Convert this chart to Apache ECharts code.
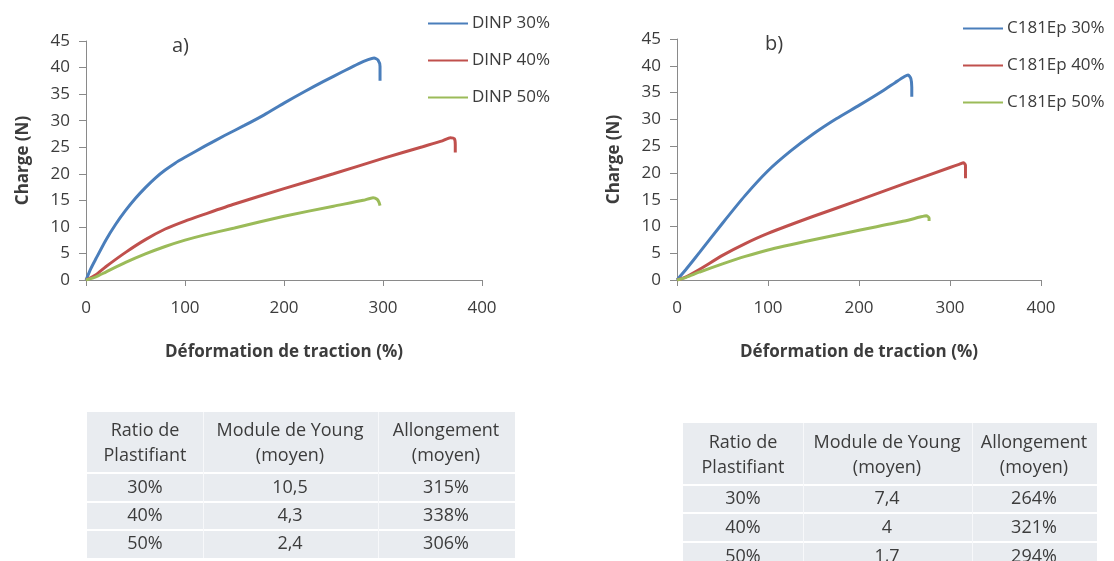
<!DOCTYPE html>
<html>
<head>
<meta charset="utf-8">
<script src="https://cdn.jsdelivr.net/npm/echarts@6/dist/echarts.min.js"></script>
<style>
html,body{margin:0;padding:0;background:#fff;}
#chart{width:1114px;height:561px;}
</style>
</head>
<body>
<div id="chart"></div>
<script>
// ---- Data ----
const seriesNamesA = ['DINP 30%', 'DINP 40%', 'DINP 50%'];
const seriesNamesB = ['C181Ep 30%', 'C181Ep 40%', 'C181Ep 50%'];

const dinp30 = [[0,0],[5,2.2],[10,4],[20,7.5],[30,10.5],[40,13.1],[50,15.4],[60,17.4],[70,19.2],[80,20.7],[90,22],[100,23.1],[120,25.2],[140,27.2],[160,29.1],[180,31.1],[200,33.3],[220,35.4],[240,37.4],[260,39.3],[275,40.7],[285,41.5],[291,41.8],[295,41.4],[297,40.2],[297,37.5]];
const dinp40 = [[0,0],[10,1],[20,2.5],[40,5.2],[60,7.6],[80,9.6],[100,11.1],[120,12.4],[150,14.3],[200,17.2],[250,20],[300,22.9],[340,25.1],[360,26.2],[368,26.8],[372,26.6],[373,25.5],[373,24]];
const dinp50 = [[0,0],[10,0.6],[20,1.5],[40,3.3],[60,4.9],[80,6.3],[100,7.5],[120,8.5],[150,9.8],[200,12],[250,13.9],[280,15],[290,15.5],[294,15.2],[296,14.6],[297,14]];

const c30 = [[0,0],[10,2],[25,5.2],[50,10.6],[75,15.8],[100,20.4],[125,24.1],[150,27.3],[175,30.1],[200,32.6],[225,35.2],[240,36.9],[250,38],[254,38.3],[257,37.6],[258,36],[258,34.2]];
const c40 = [[0,0],[10,0.6],[25,2],[50,4.6],[75,6.8],[100,8.7],[150,11.9],[200,14.9],[250,18],[300,21],[310,21.6],[315,21.9],[317,21.4],[317,19]];
const c50 = [[0,0],[10,0.5],[25,1.5],[50,3],[75,4.4],[100,5.6],[150,7.5],[200,9.3],[250,11],[268,11.8],[274,12],[277,11.6],[277,11]];

const xTicks = [0, 100, 200, 300, 400];
const yTicks = [0, 5, 10, 15, 20, 25, 30, 35, 40, 45];

const tableHeader = ['Ratio de\nPlastifiant', 'Module de Young\n(moyen)', 'Allongement\n(moyen)'];
const ratios = ['30%', '40%', '50%'];
const youngA = ['10,5', '4,3', '2,4'];
const elongA = ['315%', '338%', '306%'];
const youngB = ['7,4', '4', '1,7'];
const elongB = ['264%', '321%', '294%'];

const colors = ['#4a7ebb', '#c0504d', '#9bbb59'];
const FONT = '"Open Sans", sans-serif';
const TXT = '#3c3c3c';

// ---- Build ----
function xAxisDef(gi){
  return {
    type:'value', gridIndex:gi, min:xTicks[0], max:xTicks[xTicks.length-1], interval:100,
    name:'Déformation de traction (%)', nameLocation:'middle', nameGap:64,
    nameTextStyle:{fontFamily:FONT, fontWeight:'bold', fontSize:17, color:TXT},
    axisLine:{show:true, lineStyle:{color:'#8a8a8a', width:1}},
    axisTick:{show:true, length:6, lineStyle:{color:'#8a8a8a'}},
    axisLabel:{fontFamily:FONT, fontSize:17, color:TXT, margin:20},
    splitLine:{show:false}
  };
}
function yAxisDef(gi){
  return {
    type:'value', gridIndex:gi, min:yTicks[0], max:yTicks[yTicks.length-1], interval:5,
    name:'Charge (N)', nameLocation:'middle', nameGap:54, nameRotate:90,
    nameTextStyle:{fontFamily:FONT, fontWeight:'bold', fontSize:17, color:TXT},
    axisLine:{show:true, lineStyle:{color:'#8a8a8a', width:1}},
    axisTick:{show:true, length:7, lineStyle:{color:'#8a8a8a'}},
    axisLabel:{fontFamily:FONT, fontSize:17, color:TXT, margin:16},
    splitLine:{show:false}
  };
}
function lineSeries(name, data, color, gi){
  return {
    type:'line', name:name, data:data, xAxisIndex:gi, yAxisIndex:gi,
    showSymbol:false, symbol:'none', smooth:0.2,
    lineStyle:{color:color, width:3}, itemStyle:{color:color},
    animation:false
  };
}
function legendDef(names, left, top){
  return {
    orient:'vertical', left:left, top:top, data:names,
    icon:'rect', itemWidth:40, itemHeight:2, itemGap:20, padding:0,
    textStyle:{fontFamily:FONT, fontSize:17, color:TXT, lineHeight:17, padding:[0,0,0,-1]}
  };
}
function tableGraphics(cols, rows, colCenters, values){
  const g = [];
  g.push({type:'rect', shape:{x:cols[0], y:rows[0], width:cols[cols.length-1]-cols[0], height:rows[rows.length-1]-rows[0]}, style:{fill:'#e9ecf0'}, silent:true});
  for (let i=1;i<rows.length-1;i++){
    g.push({type:'rect', shape:{x:cols[0], y:rows[i]-1, width:cols[cols.length-1]-cols[0], height:2}, style:{fill:'#ffffff'}, silent:true});
  }
  for (let j=1;j<cols.length-1;j++){
    g.push({type:'rect', shape:{x:cols[j], y:rows[0], width:1, height:rows[rows.length-1]-rows[0]}, style:{fill:'#f7f8fa'}, silent:true});
  }
  for (let r=0;r<values.length;r++){
    for (let c=0;c<values[r].length;c++){
      g.push({type:'text', x:colCenters[c], y:(rows[r]+rows[r+1])/2 + (r===0?1:0),
        style:{text:values[r][c], fill:TXT, font:'18px '+FONT, align:'center', verticalAlign:'middle', lineHeight:25}, silent:true});
    }
  }
  return g;
}
const valuesA = [tableHeader].concat(ratios.map((r,i)=>[r, youngA[i], elongA[i]]));
const valuesB = [tableHeader].concat(ratios.map((r,i)=>[r, youngB[i], elongB[i]]));

const graphics = []
  .concat(tableGraphics([87,203,378,515],[412,473,502,530,558],[145,290,446], valuesA))
  .concat(tableGraphics([683,803,972,1097],[423,485,513,542,571],[743,887,1034], valuesB))
  .concat([
    {type:'text', x:172, y:36, style:{text:'a)', fill:TXT, font:'20px '+FONT}, silent:true},
    {type:'text', x:765, y:34, style:{text:'b)', fill:TXT, font:'20px '+FONT}, silent:true}
  ]);

const chart = echarts.init(document.getElementById('chart'), null, {renderer:'canvas'});
chart.setOption({
  backgroundColor:'#ffffff',
  animation:false,
  grid:[
    {left:86, top:41, width:396, height:239},
    {left:677, top:39, width:364, height:241}
  ],
  xAxis:[xAxisDef(0), xAxisDef(1)],
  yAxis:[yAxisDef(0), yAxisDef(1)],
  legend:[legendDef(seriesNamesA, 428, 15), legendDef(seriesNamesB, 963, 20)],
  series:[
    lineSeries(seriesNamesA[0], dinp30, colors[0], 0),
    lineSeries(seriesNamesA[1], dinp40, colors[1], 0),
    lineSeries(seriesNamesA[2], dinp50, colors[2], 0),
    lineSeries(seriesNamesB[0], c30, colors[0], 1),
    lineSeries(seriesNamesB[1], c40, colors[1], 1),
    lineSeries(seriesNamesB[2], c50, colors[2], 1)
  ],
  graphic:graphics
});
</script>
</body>
</html>
